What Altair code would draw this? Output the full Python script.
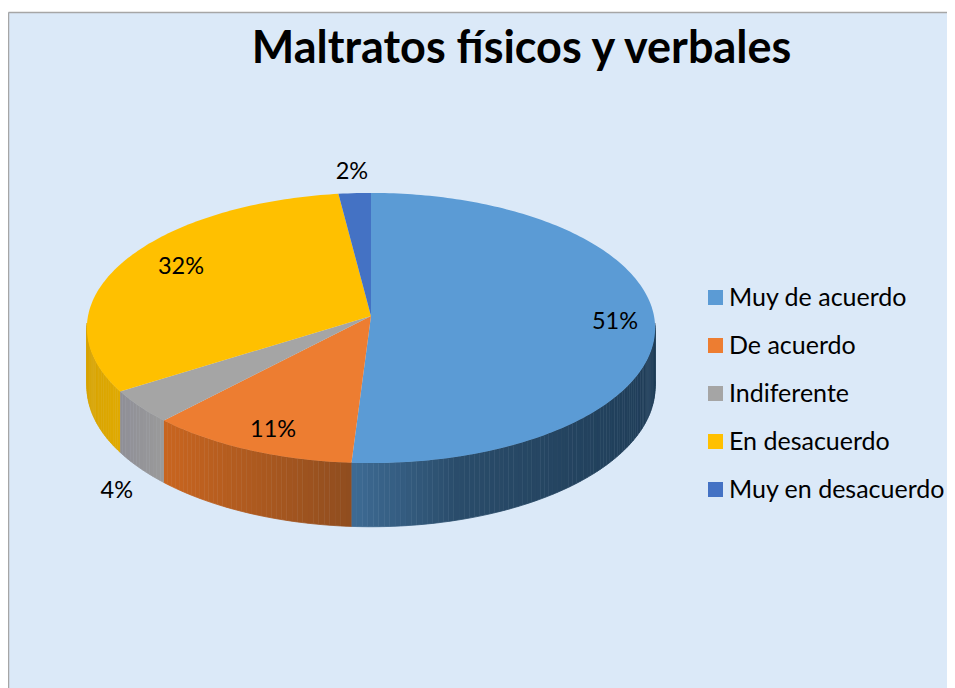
import math
import altair as alt
import pandas as pd

CATEGORIES = ["Muy de acuerdo", "De acuerdo", "Indiferente", "En desacuerdo", "Muy en desacuerdo"]
PERCENTS = [51, 11, 4, 32, 2]
COLORS = ["#5b9bd5", "#ed7d31", "#a5a5a5", "#ffc000", "#4472c4"]
SIDE_STOPS = [
    [(0.0, (0x3d, 0x6b, 0x94)), (0.35, (0x2a, 0x4c, 0x6a)), (1.0, (0x1f, 0x3d, 0x58))],
    [(0.0, (0xc9, 0x65, 0x1f)), (1.0, (0x8f, 0x4d, 0x1f))],
    [(0.0, (0x8f, 0x8f, 0x97)), (1.0, (0x9a, 0x9a, 0x9a))],
    [(0.0, (0xd8, 0xa3, 0x00)), (1.0, (0xe0, 0xaa, 0x00))],
]
LABEL_RADIUS = [0.86, 0.80, 1.10, 0.77, 1.17]
LABEL_DROP = [2, 7, 75, -7, 0]

CX, CY, A, B, K, DEPTH = 371, 316, 283, 134, 0.0889, 58


def project(deg):
    t = math.radians(deg)
    u, v = math.sin(t), math.cos(t)
    w = 1 + K * v
    return CX + A * u / w, CY - B * v / w, DEPTH / w


def shade(stops, f):
    for (a, ca), (b, cb) in zip(stops, stops[1:]):
        if f <= b:
            g = (f - a) / (b - a)
            return "#%02x%02x%02x" % tuple(round(p + (q - p) * g) for p, q in zip(ca, cb))
    return "#%02x%02x%02x" % stops[-1][1]


faces, sides, labels = [], [], []
start = 0.0
seg = 0
for i, (cat, pct) in enumerate(zip(CATEGORIES, PERCENTS)):
    end = start + pct * 3.6
    faces.append({"cat": cat, "x": CX, "y": CY, "o": -1})
    n = max(int(end - start), 2)
    for j in range(n + 1):
        x, y, _ = project(start + (end - start) * j / n)
        faces.append({"cat": cat, "x": x, "y": y, "o": j})
    lo, hi = max(start, 93), min(end, 267)
    if hi > lo:
        m = max(int(hi - lo), 2)
        xs = [project(lo + (hi - lo) * j / m)[0] for j in range(m + 1)]
        x0, x1 = min(xs), max(xs)
        for j in range(m):
            seg += 1
            mid = (xs[j] + xs[j + 1]) / 2
            colour = shade(SIDE_STOPS[i], (mid - x0) / (x1 - x0))
            ax, ay, ad = project(lo + (hi - lo) * j / m)
            bx, by, bd = project(lo + (hi - lo) * (j + 1) / m)
            corners = [(ax, ay), (bx, by), (bx, by + bd), (ax, ay + ad)]
            for o, (px, py) in enumerate(corners):
                sides.append({"x": px, "y": py, "seg": seg, "c": colour, "o": o})
    x, y, _ = project((start + end) / 2)
    labels.append({
        "x": CX + (x - CX) * LABEL_RADIUS[i],
        "y": CY + (y - CY) * LABEL_RADIUS[i] + LABEL_DROP[i],
        "t": f"{pct}%",
    })
    start = end

EDGE = dict(domain=True, domainColor="#a6a6a6", domainWidth=1.5, ticks=False,
            labels=False, grid=False, title=None)
X = alt.X("x:Q", scale=alt.Scale(domain=[8, 947], nice=False, zero=False),
          axis=alt.Axis(orient="top", **EDGE))
Y = alt.Y("y:Q", scale=alt.Scale(domain=[688, 12], nice=False, zero=False),
          axis=alt.Axis(orient="left", **EDGE))

side = alt.Chart(pd.DataFrame(sides)).mark_line(filled=True, strokeWidth=0.8).encode(
    x=X, y=Y,
    detail="seg:N",
    order=alt.Order("o:Q"),
    fill=alt.Fill("c:N", scale=None),
    stroke=alt.Stroke("c:N", scale=None),
)

face = alt.Chart(pd.DataFrame(faces)).mark_line(filled=True, strokeWidth=0).encode(
    x=X, y=Y, order=alt.Order("o:Q"),
    color=alt.Color(
        "cat:N",
        scale=alt.Scale(domain=CATEGORIES, range=COLORS),
        legend=alt.Legend(
            title=None, orient="none", legendX=695, legendY=273,
            symbolType="square", symbolSize=225, symbolStrokeWidth=0, symbolOpacity=1,
            labelFont="Lato", labelFontSize=25, labelColor="#000000", labelOffset=1,
            labelLimit=400, rowPadding=22, padding=0, values=CATEGORIES,
        ),
    ),
)

text = alt.Chart(pd.DataFrame(labels)).mark_text(
    font="Lato", fontSize=23.5, color="#000000", baseline="middle", align="center"
).encode(x=X, y=Y, text="t:N")

chart = alt.layer(side, face, text).properties(
    width=939,
    height=676,
    padding={"left": 0, "top": 4, "right": 0, "bottom": 0},
    autosize=alt.AutoSizeParams(type="none"),
    background="transparent",
    title=alt.TitleParams(
        "Maltratos físicos y verbales",
        font="Lato", fontSize=45, fontWeight="bold", color="#000000",
        anchor="middle", dx=44, dy=64,
    ),
).configure_view(fill="#dbe9f8", stroke=None)

chart.save("out.html", embed_options={"renderer": "svg", "actions": False})
